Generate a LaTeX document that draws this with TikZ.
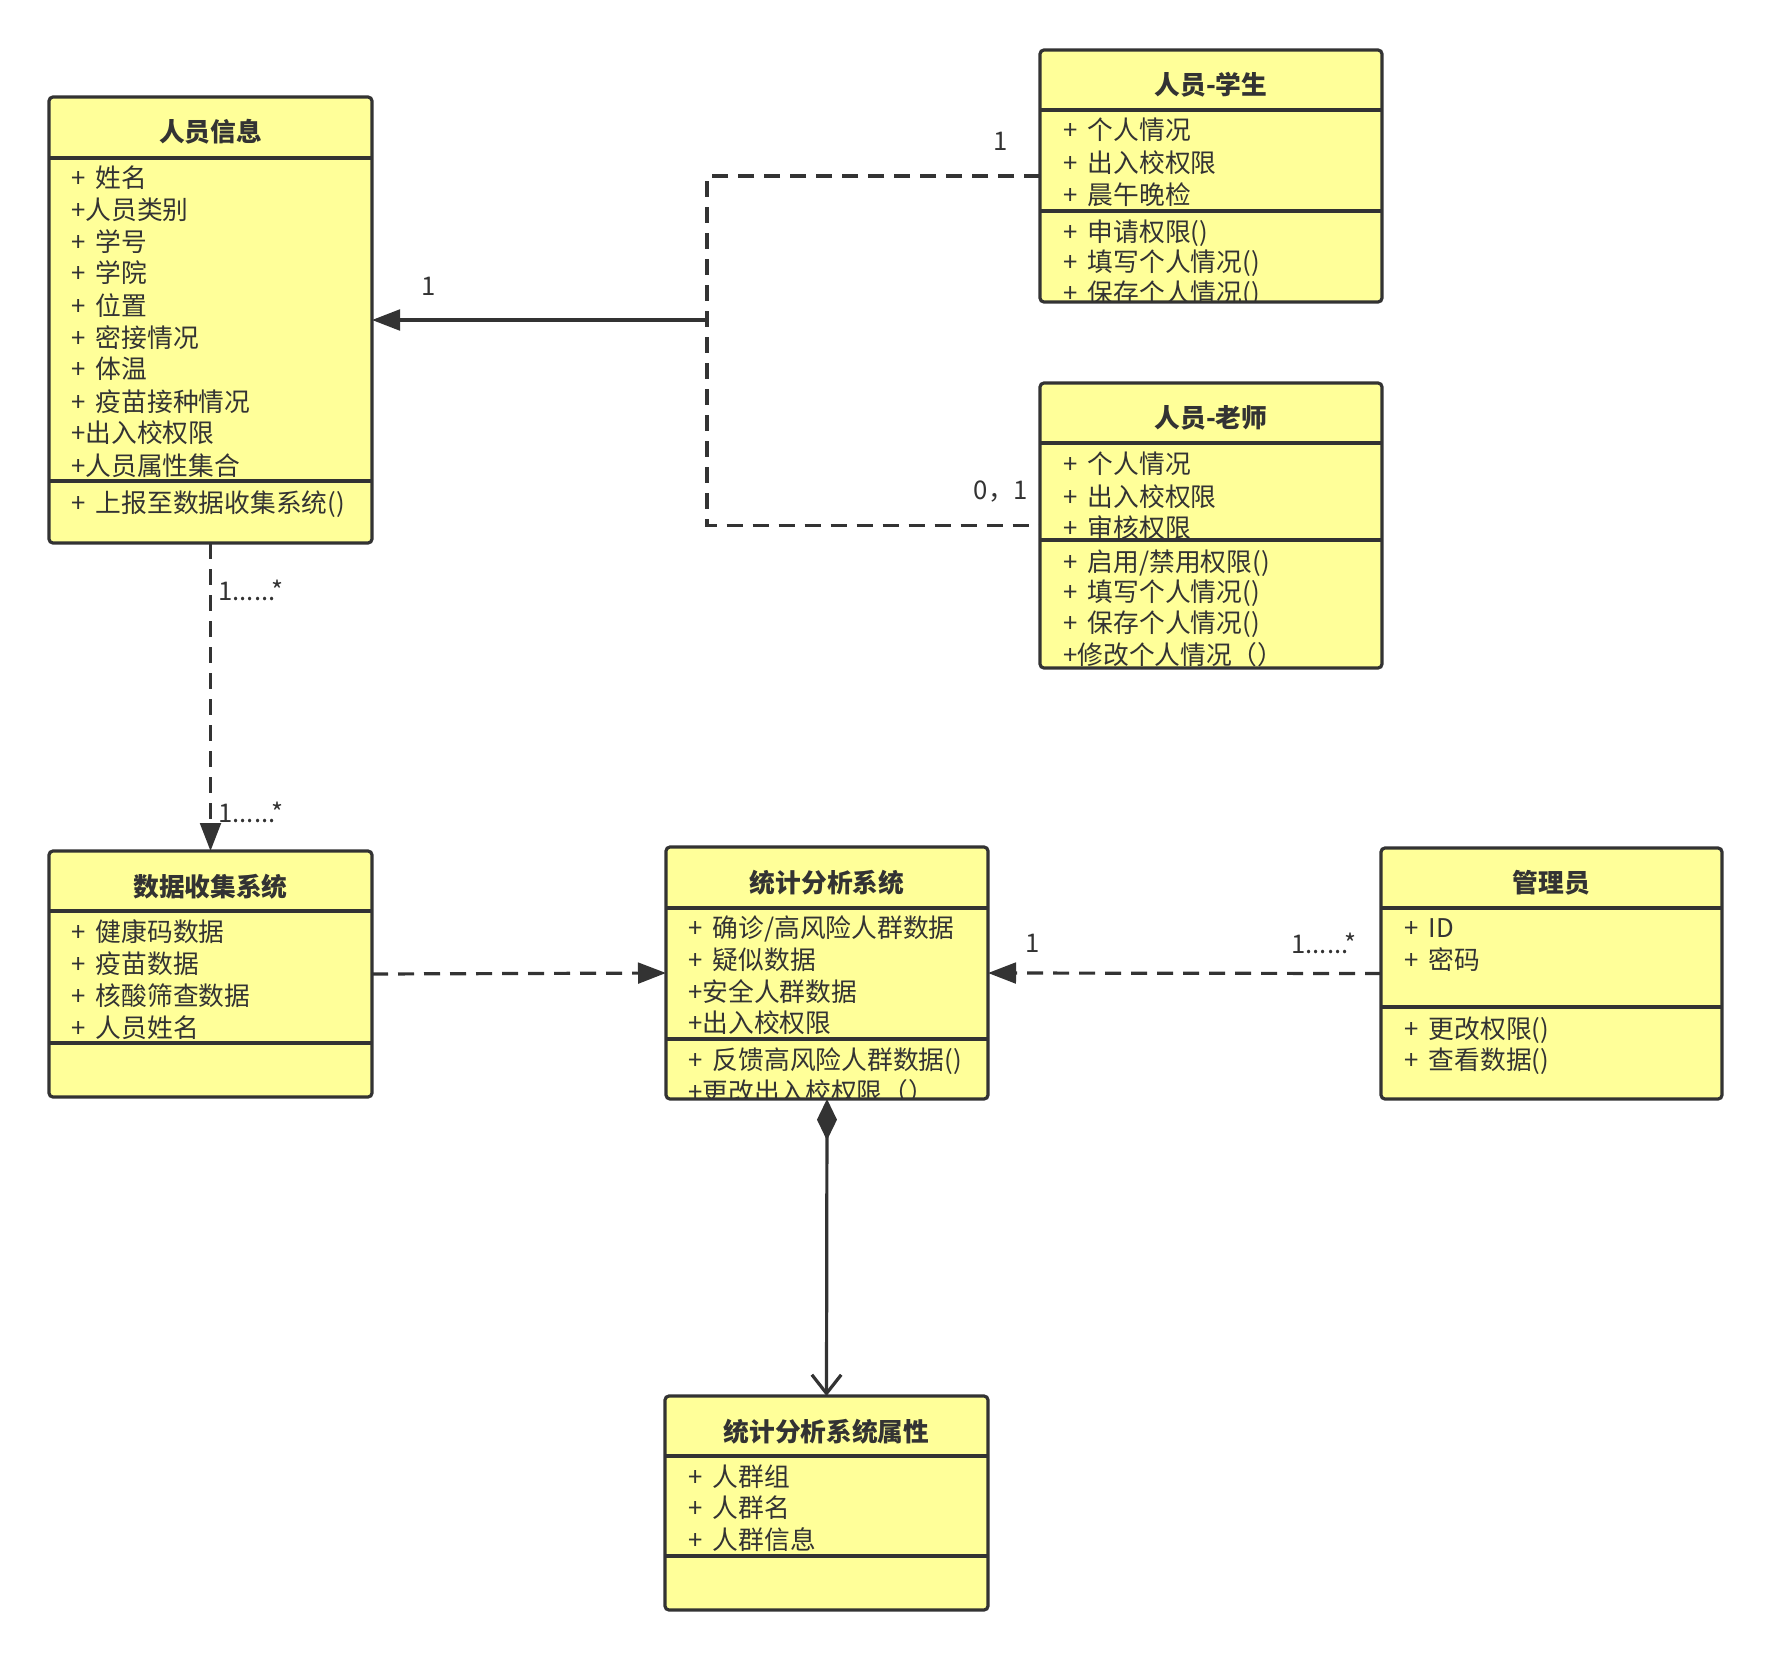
\documentclass[tikz,border=0pt]{standalone}
\usepackage{fontspec}
\setmainfont{Noto Sans CJK SC}[WordSpace=1.8]
\usetikzlibrary{arrows.meta,fit}
\definecolor{ink}{HTML}{333333}
\definecolor{boxfill}{HTML}{FFFF99}
\tikzset{
 umlfill/.style={fill=boxfill, draw=none, inner sep=0pt, outer sep=0pt, rectangle, rounded corners=3pt},
 umlline/.style={draw=ink, line width=2.4pt, rounded corners=3pt},
 divline/.style={draw=ink, line width=2.4pt},
 ttl/.style={font=\fontsize{19.3}{23}\selectfont\bfseries, text=ink, inner sep=0pt},
 attr/.style={font=\fontsize{19.3}{23}\selectfont, text=ink, inner sep=0pt, anchor=west, text height=17.7pt, text depth=3.2pt},
 lbl/.style={font=\fontsize{19.3}{23}\selectfont, text=ink, inner sep=0pt},
 conn/.style={draw=ink, line width=2.4pt},
 dashline/.style={dash pattern=on 12pt off 7.5pt},
 tri/.style={-{Triangle[length=21pt,width=15.5pt]}},
}
\begin{document}
\begin{tikzpicture}[x=0.75pt,y=-0.75pt]
\useasboundingbox (0,0) rectangle (1771,1660);

% ---------- 人员信息 ----------
\node[umlfill, fit={(49,97) (372,543)}] (info) {};
\begin{scope}
\clip (49,97) rectangle (372,543);
\node[ttl] (info-t) at (210.5,132) {人员信息};
\node[attr] (info-a1) at (71,178) {+ 姓名};
\node[attr] (info-a2) at (71,210) {+人员类别};
\node[attr] (info-a3) at (71,242) {+ 学号};
\node[attr] (info-a4) at (71,273) {+ 学院};
\node[attr] (info-a5) at (71,306) {+ 位置};
\node[attr] (info-a6) at (71,338) {+ 密接情况};
\node[attr] (info-a7) at (71,369) {+ 体温};
\node[attr] (info-a8) at (71,402) {+ 疫苗接种情况};
\node[attr] (info-a9) at (71,433) {+出入校权限};
\node[attr] (info-a10) at (71,466) {+人员属性集合};
\node[attr] (info-m1) at (71,503) {+ 上报至数据收集系统()};
\end{scope}
\draw[umlline] (info.north west) rectangle (info.south east);
\draw[divline] (49,158) -- (372,158);
\draw[divline] (49,481) -- (372,481);

% ---------- 人员-学生 ----------
\node[umlfill, fit={(1040,50) (1382,302)}] (stu) {};
\begin{scope}
\clip (1040,50) rectangle (1382,302);
\node[ttl] (stu-t) at (1211,85) {人员-学生};
\node[attr] (stu-a1) at (1063,130) {+ 个人情况};
\node[attr] (stu-a2) at (1063,163) {+ 出入校权限};
\node[attr] (stu-a3) at (1063,195) {+ 晨午晚检};
\node[attr] (stu-m1) at (1063,232) {+ 申请权限()};
\node[attr] (stu-m2) at (1063,262) {+ 填写个人情况()};
\node[attr] (stu-m3) at (1063,293) {+ 保存个人情况()};
\end{scope}
\draw[umlline] (stu.north west) rectangle (stu.south east);
\draw[divline] (1040,110) -- (1382,110);
\draw[divline] (1040,211) -- (1382,211);

% ---------- 人员-老师 ----------
\node[umlfill, fit={(1040,383) (1382,668)}] (tea) {};
\begin{scope}
\clip (1040,383) rectangle (1382,668);
\node[ttl] (tea-t) at (1211,418) {人员-老师};
\node[attr] (tea-a1) at (1063,464) {+ 个人情况};
\node[attr] (tea-a2) at (1063,497) {+ 出入校权限};
\node[attr] (tea-a3) at (1063,528) {+ 审核权限};
\node[attr] (tea-m1) at (1063,562) {+ 启用/禁用权限()};
\node[attr] (tea-m2) at (1063,592) {+ 填写个人情况()};
\node[attr] (tea-m3) at (1063,623) {+ 保存个人情况()};
\node[attr] (tea-m4) at (1063,655) {+修改个人情况（）};
\end{scope}
\draw[umlline] (tea.north west) rectangle (tea.south east);
\draw[divline] (1040,443) -- (1382,443);
\draw[divline] (1040,540) -- (1382,540);

% ---------- 数据收集系统 ----------
\node[umlfill, fit={(49,851) (372,1097)}] (dc) {};
\begin{scope}
\clip (49,851) rectangle (372,1097);
\node[ttl] (dc-t) at (210.5,887) {数据收集系统};
\node[attr] (dc-a1) at (71,932) {+ 健康码数据};
\node[attr] (dc-a2) at (71,964) {+ 疫苗数据};
\node[attr] (dc-a3) at (71,996) {+ 核酸筛查数据};
\node[attr] (dc-a4) at (71,1028) {+ 人员姓名};
\end{scope}
\draw[umlline] (dc.north west) rectangle (dc.south east);
\draw[divline] (49,911) -- (372,911);
\draw[divline] (49,1043) -- (372,1043);

% ---------- 统计分析系统 ----------
\node[umlfill, fit={(666,847) (988,1099)}] (stat) {};
\begin{scope}
\clip (666,847) rectangle (988,1099);
\node[ttl] (stat-t) at (827,883) {统计分析系统};
\node[attr] (stat-a1) at (688,928) {+ 确诊/高风险人群数据};
\node[attr] (stat-a2) at (688,960) {+ 疑似数据};
\node[attr] (stat-a3) at (688,992) {+安全人群数据};
\node[attr] (stat-a4) at (688,1023) {+出入校权限};
\node[attr] (stat-m1) at (688,1060) {+ 反馈高风险人群数据()};
\node[attr] (stat-m2) at (688,1092) {+更改出入校权限（）};
\end{scope}
\draw[umlline] (stat.north west) rectangle (stat.south east);
\draw[divline] (666,908) -- (988,908);
\draw[divline] (666,1039) -- (988,1039);

% ---------- 管理员 ----------
\node[umlfill, fit={(1381,848) (1722,1099)}] (admin) {};
\begin{scope}
\clip (1381,848) rectangle (1722,1099);
\node[ttl] (admin-t) at (1551.5,883) {管理员};
\node[attr] (admin-a1) at (1404,928) {+ ID};
\node[attr] (admin-a2) at (1404,960) {+ 密码};
\node[attr] (admin-m1) at (1404,1029) {+ 更改权限()};
\node[attr] (admin-m2) at (1404,1060) {+ 查看数据()};
\end{scope}
\draw[umlline] (admin.north west) rectangle (admin.south east);
\draw[divline] (1381,908) -- (1722,908);
\draw[divline] (1381,1007) -- (1722,1007);

% ---------- 统计分析系统属性 ----------
\node[umlfill, fit={(665,1396) (988,1610)}] (sattr) {};
\begin{scope}
\clip (665,1396) rectangle (988,1610);
\node[ttl] (sattr-t) at (826.5,1432) {统计分析系统属性};
\node[attr] (sattr-a1) at (688,1477) {+ 人群组};
\node[attr] (sattr-a2) at (688,1508) {+ 人群名};
\node[attr] (sattr-a3) at (688,1540) {+ 人群信息};
\end{scope}
\draw[umlline] (sattr.north west) rectangle (sattr.south east);
\draw[divline] (665,1456) -- (988,1456);
\draw[divline] (665,1556) -- (988,1556);

% ---------- connectors ----------
\coordinate (jx) at (707,320);
\draw[conn, dashline] (stu.west) -- (stu.west -| jx) -- (tea.west -| jx) -- (tea.west);
\draw[conn, tri] (info.east -| jx) -- (info.east);
\draw[conn, dashline, tri] (info.south) -- (dc.north);
\draw[conn, dashline, tri] (dc.east) -- (stat.west);
\draw[conn, dashline, tri] (admin.west) -- (stat.east);
\draw[conn, {Diamond[length=31pt,width=15pt]}-{Straight Barb[length=14pt,width=22pt]}] (stat.south) -- (sattr.north);

% ---------- labels ----------
\node[lbl] (m1) at (429,286) {1};
\node[lbl] (m2) at (1001,141) {1};
\node[lbl] (m3) at (1001,492) {0，1};
\node[lbl, anchor=west] (m4) at (218,590) {1......*};
\node[lbl, anchor=west] (m5) at (218,812) {1......*};
\node[lbl] (m6) at (1033,943) {1};
\node[lbl] (m7) at (1324,943) {1......*};
\end{tikzpicture}
\end{document}
